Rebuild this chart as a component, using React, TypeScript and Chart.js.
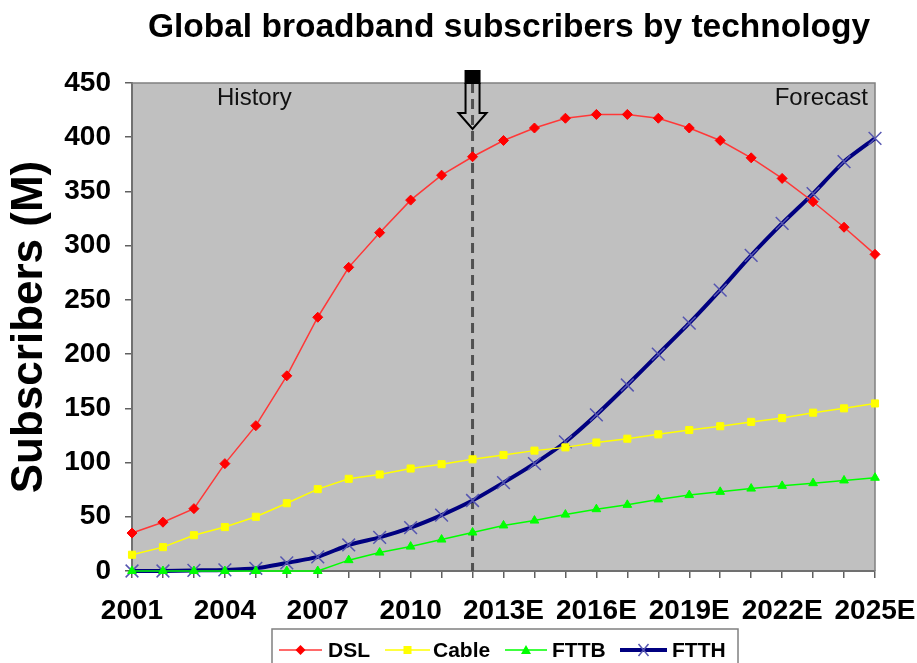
import React, { useEffect, useRef } from 'react';
import { Chart, registerables } from 'chart.js';

Chart.register(...registerables);

const years = [
  '2001', '2002', '2003', '2004', '2005', '2006', '2007', '2008', '2009', '2010', '2011', '2012',
  '2013E', '2014E', '2015E', '2016E', '2017E', '2018E', '2019E', '2020E', '2021E', '2022E', '2023E', '2024E', '2025E',
];
const shownTickLabels = ['2001', '2004', '2007', '2010', '2013E', '2016E', '2019E', '2022E', '2025E'];

const dsl = [35, 45, 57.5, 99, 134, 180, 234, 280, 312, 342, 365, 382, 397, 408.5, 417.5, 421, 421, 417.5, 408.5, 397, 381, 362, 340.5, 317, 292];
const cable = [15, 22, 33, 40.5, 50, 62.5, 75.5, 85, 89, 94.5, 98.5, 103, 107, 111, 114, 118.5, 122, 126, 130, 133.5, 137.5, 141, 146, 150, 154.5];
const fttb = [0, 0, 0, 0, 0, 0, 0, 10, 17, 22.5, 29, 35.5, 42, 46.5, 52, 57, 61, 66, 70, 73, 76, 78.5, 81, 83.5, 86];
const ftth = [0, 0, 0.5, 1, 2.5, 7.5, 13, 24, 31, 40, 51.5, 65, 81.5, 99, 119, 144, 171.5, 200, 228.5, 259, 291, 320.5, 348, 377.5, 399];

const chartTitle = 'Global broadband subscribers by technology';
const yTitle = 'Subscribers (M)';
const historyLabel = 'History';
const forecastLabel = 'Forecast';
const dividerCategory = '2012';

const FONT = '"Liberation Sans", Arial, sans-serif';

const decorPlugin = {
  id: 'decor',
  beforeDraw(chart: any) {
    const { ctx, chartArea: a } = chart;
    ctx.save();
    ctx.fillStyle = '#ffffff';
    ctx.fillRect(0, 0, chart.width, chart.height);
    ctx.fillStyle = '#c0c0c0';
    ctx.fillRect(a.left, a.top, a.right - a.left, a.bottom - a.top);
    ctx.restore();
  },
  beforeDatasetsDraw(chart: any) {
    const { ctx, chartArea: a, scales } = chart;
    const x = scales.x.getPixelForValue(years.indexOf(dividerCategory));
    ctx.save();
    ctx.strokeStyle = '#808080';
    ctx.lineWidth = 1.5;
    ctx.beginPath();
    ctx.moveTo(a.left, a.top);
    ctx.lineTo(a.right, a.top);
    ctx.lineTo(a.right, a.bottom);
    ctx.stroke();
    ctx.strokeStyle = '#505050';
    ctx.lineWidth = 3;
    ctx.setLineDash([10, 6]);
    ctx.beginPath();
    ctx.moveTo(x, a.top);
    ctx.lineTo(x, a.bottom);
    ctx.stroke();
    ctx.setLineDash([]);
    ctx.fillStyle = '#111';
    ctx.font = `24px ${FONT}`;
    ctx.textBaseline = 'alphabetic';
    ctx.textAlign = 'left';
    ctx.fillText(historyLabel, a.left + 85, a.top + 22);
    ctx.textAlign = 'right';
    ctx.fillText(forecastLabel, a.right - 7, a.top + 22);
    ctx.restore();
  },
  afterDraw(chart: any) {
    const { ctx, chartArea: a, scales } = chart;
    const x = scales.x.getPixelForValue(years.indexOf(dividerCategory));
    ctx.save();
    ctx.fillStyle = '#000';
    ctx.font = `bold 33.5px ${FONT}`;
    ctx.textAlign = 'center';
    ctx.textBaseline = 'alphabetic';
    ctx.fillText(chartTitle, 509, 37);

    const top = a.top;
    ctx.fillStyle = '#000';
    ctx.fillRect(x - 8, top - 13, 16, 14);
    ctx.strokeStyle = '#000';
    ctx.lineWidth = 2;
    ctx.beginPath();
    ctx.moveTo(x - 7, top);
    ctx.lineTo(x - 7, top + 30);
    ctx.lineTo(x - 14, top + 30);
    ctx.lineTo(x, top + 46);
    ctx.lineTo(x + 14, top + 30);
    ctx.lineTo(x + 7, top + 30);
    ctx.lineTo(x + 7, top);
    ctx.stroke();

    const ds = chart.data.datasets;
    const boxL = 272, boxT = 629, boxR = 738;
    ctx.fillStyle = '#fff';
    ctx.fillRect(boxL, boxT, boxR - boxL, 40);
    ctx.strokeStyle = '#808080';
    ctx.lineWidth = 1.5;
    ctx.strokeRect(boxL, boxT, boxR - boxL, 40);
    const items = [
      { l: 279, r: 322, t: 328 },
      { l: 385, r: 430, t: 433 },
      { l: 505, r: 547, t: 552 },
      { l: 620, r: 667, t: 672 },
    ];
    const ly = 650;
    items.forEach((it, i) => {
      const d = ds[i];
      ctx.strokeStyle = d.borderColor;
      ctx.lineWidth = d.borderWidth;
      ctx.beginPath();
      ctx.moveTo(it.l, ly);
      ctx.lineTo(it.r, ly);
      ctx.stroke();
      const cx = (it.l + it.r) / 2;
      ctx.fillStyle = d.pointBackgroundColor;
      ctx.strokeStyle = d.pointBorderColor;
      ctx.lineWidth = 1.5;
      if (d.pointStyle === 'rectRot') {
        ctx.beginPath();
        ctx.moveTo(cx, ly - 5); ctx.lineTo(cx + 5, ly); ctx.lineTo(cx, ly + 5); ctx.lineTo(cx - 5, ly); ctx.closePath();
        ctx.fill();
      } else if (d.pointStyle === 'rect') {
        ctx.fillRect(cx - 4, ly - 4, 8, 8);
      } else if (d.pointStyle === 'triangle') {
        ctx.beginPath();
        ctx.moveTo(cx, ly - 5); ctx.lineTo(cx + 5, ly + 4); ctx.lineTo(cx - 5, ly + 4); ctx.closePath();
        ctx.fill();
      } else {
        ctx.beginPath();
        ctx.moveTo(cx - 5, ly - 6); ctx.lineTo(cx + 5, ly + 6);
        ctx.moveTo(cx + 5, ly - 6); ctx.lineTo(cx - 5, ly + 6);
        ctx.stroke();
      }
      ctx.fillStyle = '#000';
      ctx.font = `bold 21px ${FONT}`;
      ctx.textAlign = 'left';
      ctx.textBaseline = 'middle';
      ctx.fillText(d.label, it.t, ly + 1);
    });
    ctx.restore();
  },
};

export default function App() {
  const ref = useRef<HTMLCanvasElement>(null);
  useEffect(() => {
    const tickFont = { family: FONT, size: 28, weight: 'bold' as const };
    const chart = new Chart(ref.current as HTMLCanvasElement, {
      type: 'line',
      data: {
        labels: years,
        datasets: [
          {
            label: 'DSL', data: dsl, borderColor: '#ff3838', borderWidth: 1.5,
            pointStyle: 'rectRot', pointRadius: 5, pointBackgroundColor: '#ff0000', pointBorderColor: '#ff0000', pointBorderWidth: 1,
            clip: false, order: 1,
          },
          {
            label: 'Cable', data: cable, borderColor: '#ffff00', borderWidth: 1.5,
            pointStyle: 'rect', pointRadius: 5, pointBackgroundColor: '#ffff00', pointBorderColor: '#ffff00', pointBorderWidth: 1,
            clip: false, order: 2,
          },
          {
            label: 'FTTB', data: fttb, borderColor: '#00ff00', borderWidth: 1.5,
            pointStyle: 'triangle', pointRadius: 5, pointBackgroundColor: '#00ff00', pointBorderColor: '#00ff00', pointBorderWidth: 1,
            clip: false, order: 3,
          },
          {
            label: 'FTTH', data: ftth, borderColor: '#000080', borderWidth: 4,
            pointStyle: 'crossRot', pointRadius: 9, pointBackgroundColor: '#5555b0', pointBorderColor: '#5555b0', pointBorderWidth: 1.5,
            clip: false, order: 4, tension: 0.2,
          },
        ] as any,
      },
      options: {
        animation: false,
        responsive: false,
        devicePixelRatio: 1,
        layout: { padding: { top: 83, right: 42, bottom: 0, left: 0 } },
        plugins: {
          legend: { display: false },
          tooltip: { enabled: false },
          title: { display: false },
        },
        scales: {
          x: {
            type: 'category',
            offset: false,
            grid: { drawOnChartArea: false, tickLength: 7, color: '#606060', lineWidth: 1.5 },
            border: { color: '#707070', width: 2 },
            ticks: {
              autoSkip: false, maxRotation: 0, minRotation: 0, padding: 16, color: '#000', font: tickFont,
              callback: (_v: any, i: number) => (shownTickLabels.includes(years[i]) ? years[i] : ''),
            },
            afterFit: (s: any) => { s.height = 92; s.paddingLeft = 0; s.paddingRight = 0; },
          },
          y: {
            min: 0, max: 450,
            grid: { drawOnChartArea: false, tickLength: 7, color: '#606060', lineWidth: 1.5 },
            border: { color: '#707070', width: 2 },
            ticks: { stepSize: 50, padding: 14, color: '#000', font: tickFont },
            title: {
              display: true, text: yTitle, color: '#000',
              font: { family: FONT, size: 44, weight: 'bold' }, padding: { top: 3, bottom: 0 },
            },
            afterFit: (s: any) => { s.width = 132; s.paddingTop = 0; s.paddingBottom = 0; },
          },
        },
      } as any,
      plugins: [decorPlugin],
    });
    return () => chart.destroy();
  }, []);
  return (
    <div style={{ position: 'fixed', left: 0, top: 0, width: 917, height: 663, background: '#fff' }}>
      <canvas ref={ref} width={917} height={663} style={{ width: 917, height: 663, display: 'block' }} />
    </div>
  );
}
